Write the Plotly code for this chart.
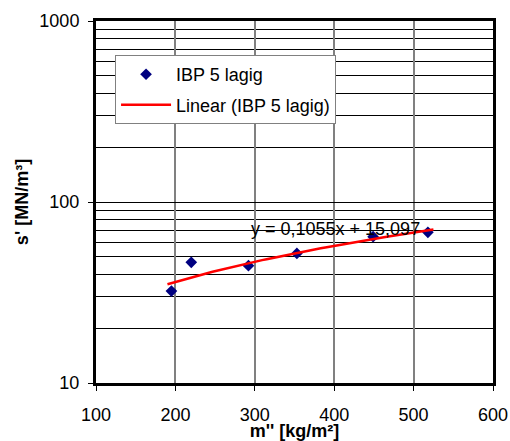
import numpy as np
import plotly.graph_objects as go

# Data
mass = [195, 220, 292, 353, 449, 518]          # m'' [kg/m²]
stiff = [32.2, 46.4, 44.5, 52.0, 64.3, 68.0]   # s' [MN/m³]

# Linear trendline from the chart's equation y = 0,1055x + 15,097
slope = 0.1055
intercept = 15.097
trend_range = [190, 525]

x_ticks = [100, 200, 300, 400, 500, 600]
y_ticks = [10, 100, 1000]
y_minor = [20, 30, 40, 50, 60, 70, 80, 90, 200, 300, 400, 500, 600, 700, 800, 900]

tx = np.linspace(trend_range[0], trend_range[1], 60)
ty = slope * tx + intercept

FONT = "Liberation Sans, Arial, sans-serif"
FS = 18

fig = go.Figure()
fig.add_trace(go.Scatter(
    x=mass, y=stiff, mode="markers", name="IBP 5 lagig",
    marker=dict(symbol="diamond", size=9, color="#000080"),
    legendgroup="a",
))
fig.add_trace(go.Scatter(
    x=tx, y=ty, mode="lines", name="Linear (IBP 5 lagig)",
    line=dict(color="#FF0000", width=2.5),
    legendgroup="b",
))

fig.add_annotation(
    x=(335.5 - 96) / 397, y=np.log10(70.5), xref="paper", yref="y",
    text="y = 0,1055x + 15,097", showarrow=False,
    font=dict(family=FONT, size=FS, color="#000000"),
    xanchor="center", yanchor="middle",
)

fig.update_layout(
    width=510, height=441,
    margin=dict(l=96, r=17, t=21, b=58),
    paper_bgcolor="white", plot_bgcolor="white",
    font=dict(family=FONT, size=FS, color="#000000"),
    showlegend=True,
    legend=dict(
        x=0.048, y=0.906, xanchor="left", yanchor="top",
        bgcolor="white", bordercolor="#808080", borderwidth=1,
        font=dict(family=FONT, size=FS, color="#000000"),
        traceorder="grouped", tracegroupgap=4, itemwidth=50,
    ),
    xaxis=dict(
        range=[100, 600], tickvals=x_ticks, ticks="outside", ticklen=5,
        tickcolor="black", ticklabelstandoff=8,
        showgrid=True, gridcolor="#808080", gridwidth=1.5,
        showline=True, linecolor="black", linewidth=3, mirror=True,
        zeroline=False, automargin=False,
        title=dict(text="<b>m'' [kg/m²]</b>", standoff=7,
                   font=dict(family=FONT, size=FS)),
        tickfont=dict(family=FONT, size=FS),
    ),
    yaxis=dict(
        type="log", range=[1, 3], tickvals=y_ticks, ticktext=["10", "100", "1000"],
        ticks="outside", ticklen=5, tickcolor="black", ticklabelstandoff=5,
        showgrid=True, gridcolor="#000000", gridwidth=1,
        minor=dict(tickvals=y_minor, showgrid=True, gridcolor="#000000",
                   gridwidth=1, ticks=""),
        showline=True, linecolor="black", linewidth=3, mirror=True,
        zeroline=False, automargin=False,
        title=dict(text="<b>s' [MN/m³]</b>", standoff=7,
                   font=dict(family=FONT, size=FS)),
        tickfont=dict(family=FONT, size=FS),
    ),
)

fig.write_html("out.html", config={"displayModeBar": False},
               post_script="document.body.style.margin='0';")
